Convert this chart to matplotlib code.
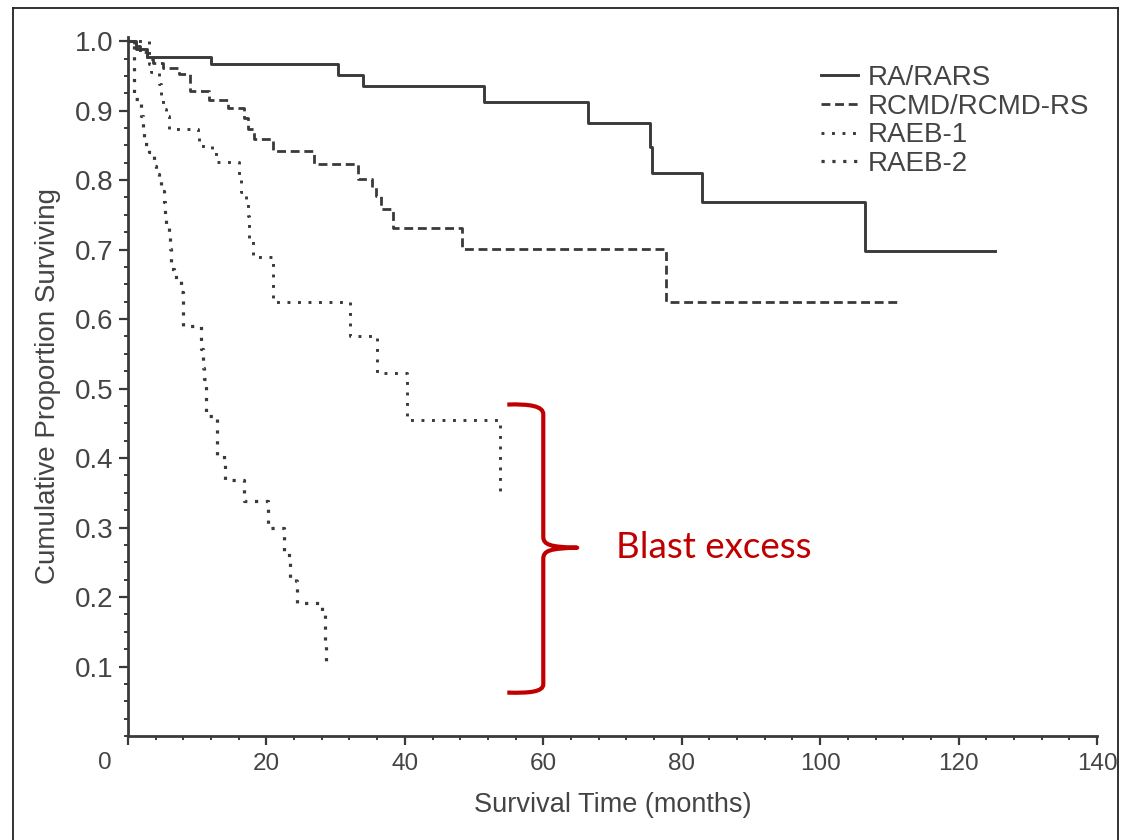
import matplotlib.pyplot as plt
import numpy as np
from matplotlib.path import Path
from matplotlib.patches import PathPatch
from matplotlib.lines import Line2D

# Kaplan-Meier survival by WHO subtype (months, cumulative proportion surviving)
groups = ["RA/RARS", "RCMD/RCMD-RS", "RAEB-1", "RAEB-2"]

ra_times = [1.2, 2.8, 12.0, 30.4, 34.0, 51.4, 66.5, 75.4, 75.7, 83.0, 106.5]
ra_surv = [0.988, 0.977, 0.967, 0.951, 0.935, 0.912, 0.882, 0.848, 0.810, 0.769, 0.698]
ra_end = 125.2

rcmd_times = [0.9, 1.8, 2.7, 3.6, 5.0, 7.3, 9.0, 11.7, 14.5, 16.7, 17.3, 18.2,
              21.0, 26.8, 33.2, 35.3, 35.9, 36.6, 38.3, 48.3, 77.8]
rcmd_surv = [0.993, 0.985, 0.975, 0.968, 0.961, 0.953, 0.928, 0.915, 0.904, 0.890,
             0.874, 0.859, 0.842, 0.823, 0.802, 0.790, 0.777, 0.759, 0.731, 0.701, 0.624]
rcmd_end = 111.7

raeb1_times = [3.0, 3.3, 4.5, 4.7, 5.0, 5.5, 5.9, 10.1, 10.3, 12.2, 12.7, 16.0,
               16.3, 17.0, 17.3, 17.5, 18.0, 21.0, 32.1, 36.0, 40.3, 53.7]
raeb1_surv = [0.967, 0.955, 0.938, 0.921, 0.902, 0.892, 0.874, 0.862, 0.849, 0.840,
              0.826, 0.800, 0.783, 0.773, 0.749, 0.716, 0.690, 0.625, 0.576, 0.522,
              0.455, 0.352]
raeb1_end = 53.7

raeb2_times = [0.8, 1.9, 2.2, 2.3, 3.0, 3.7, 4.0, 4.5, 4.8, 5.2, 5.3, 5.5, 5.9,
               6.0, 6.2, 6.6, 7.2, 7.6, 7.9, 8.0, 10.5, 10.9, 11.0, 11.2, 11.3,
               12.8, 13.8, 14.0, 16.8, 20.2, 22.5, 22.6, 23.3, 23.4, 24.3, 24.4,
               28.0, 28.4, 28.6]
raeb2_surv = [0.917, 0.892, 0.874, 0.852, 0.840, 0.820, 0.809, 0.799, 0.785, 0.769,
              0.749, 0.737, 0.726, 0.701, 0.672, 0.661, 0.655, 0.639, 0.615, 0.590,
              0.557, 0.529, 0.514, 0.489, 0.461, 0.404, 0.397, 0.368, 0.338, 0.299,
              0.292, 0.263, 0.256, 0.227, 0.223, 0.191, 0.174, 0.131, 0.100]
raeb2_end = 28.6

x_ticks = [0, 20, 40, 60, 80, 100, 120, 140]
y_ticks = [0.1, 0.2, 0.3, 0.4, 0.5, 0.6, 0.7, 0.8, 0.9, 1.0]

# brace marking the blast-excess groups
brace_x = 60.0
brace_top = 0.477
brace_bottom = 0.0625
brace_mid = 0.271
brace_label = "Blast excess"

ink = "#3a3a3a"
txt = "#444444"
red = "#C00000"

plt.rcParams["font.family"] = ["Liberation Sans", "DejaVu Sans"]

fig = plt.figure(figsize=(11.22, 8.4), dpi=100)
ax = fig.add_axes([0.1141, 0.1238, 0.8636, 0.8322])

styles = [
    dict(linestyle="-", lw=2.1),
    dict(linestyle=(0, (3.2, 1.7)), lw=2.0),
    dict(linestyle=(0, (1.0, 2.6)), lw=2.1),
    dict(linestyle=(0, (1.0, 2.4)), lw=2.3),
]
series = [(ra_times, ra_surv, ra_end), (rcmd_times, rcmd_surv, rcmd_end),
          (raeb1_times, raeb1_surv, raeb1_end), (raeb2_times, raeb2_surv, raeb2_end)]

for name, (t, s, end), st in zip(groups, series, styles):
    tt = [0.0] + list(t) + [end]
    ss = [1.0] + list(s) + [s[-1]]
    ax.step(tt, ss, where="post", color=ink, label=name, **st)

ax.set_xlim(0, 140)
ax.set_ylim(0, 1.006)

ax.set_xticks(x_ticks)
ax.set_xticklabels([""] + [str(v) for v in x_ticks[1:]])
ax.set_xticks(np.arange(0, 141, 4), minor=True)
ax.set_yticks(y_ticks)
ax.set_yticklabels(["%.1f" % v for v in y_ticks])
ax.set_yticks(np.arange(0, 1.001, 0.025), minor=True)

for side in ["top", "right"]:
    ax.spines[side].set_visible(False)
for side in ["left", "bottom"]:
    ax.spines[side].set_color(ink)
    ax.spines[side].set_linewidth(2.0)

ax.tick_params(axis="both", which="major", length=6.5, width=1.6, color=ink,
               labelcolor=txt)
ax.tick_params(axis="both", which="minor", length=3, width=1.4, color=ink)
ax.tick_params(axis="x", which="major", labelsize=17.5, pad=6)
ax.tick_params(axis="y", which="major", labelsize=20, pad=4)

# the origin label sits off to the lower left of the axis corner
ax.annotate("0", xy=(0, 0), xytext=(-16.5, -19.5), textcoords="offset points",
            ha="center", va="center", fontsize=17.5, color=txt)

ax.set_xlabel("Survival Time (months)", fontsize=19.5, color=txt, labelpad=12)
ax.set_ylabel("Cumulative Proportion Surviving", fontsize=20, color=txt, labelpad=10)

leg = ax.legend(loc="upper left", bbox_to_anchor=(0.7036, 0.976), frameon=False,
                fontsize=20, handlelength=1.35, handletextpad=0.35,
                labelspacing=0.1, borderaxespad=0)
for t in leg.get_texts():
    t.set_color(txt)

# curly brace drawn as one bezier path in data space
bx, top, bot, mid = brace_x, brace_top, brace_bottom, brace_mid
left = bx - 5.2
nose = bx + 4.9
verts = [
    (left, top), (bx - 2.0, top + 0.001), (bx, top - 0.002), (bx, top - 0.014),
    (bx, mid + 0.016),
    (bx, mid + 0.004), (bx + 1.0, mid + 0.001), (nose, mid),
    (bx + 1.0, mid - 0.001), (bx, mid - 0.004), (bx, mid - 0.016),
    (bx, bot + 0.012),
    (bx, bot + 0.001), (bx - 2.0, bot - 0.001), (left, bot),
]
codes = [Path.MOVETO, Path.CURVE4, Path.CURVE4, Path.CURVE4,
         Path.LINETO,
         Path.CURVE4, Path.CURVE4, Path.CURVE4,
         Path.CURVE4, Path.CURVE4, Path.CURVE4,
         Path.LINETO,
         Path.CURVE4, Path.CURVE4, Path.CURVE4]
ax.add_patch(PathPatch(Path(verts, codes), facecolor="none", edgecolor=red,
                       lw=3.0, capstyle="butt", joinstyle="round", clip_on=False))
ax.annotate(brace_label, xy=(nose, mid), xytext=(28, 0), textcoords="offset points",
            ha="left", va="center", fontsize=26.5, color=red, family="Lato")

# thin frame around the whole picture
for xs, ys in [([0.0116, 0.0116], [0.0, 0.9905]), ([0.0116, 0.9965], [0.9905, 0.9905]),
               ([0.9965, 0.9965], [0.9905, 0.0])]:
    fig.add_artist(Line2D(xs, ys, transform=fig.transFigure, color="#222222", lw=1.3))

fig.savefig("out.png", dpi=100, facecolor="white")
